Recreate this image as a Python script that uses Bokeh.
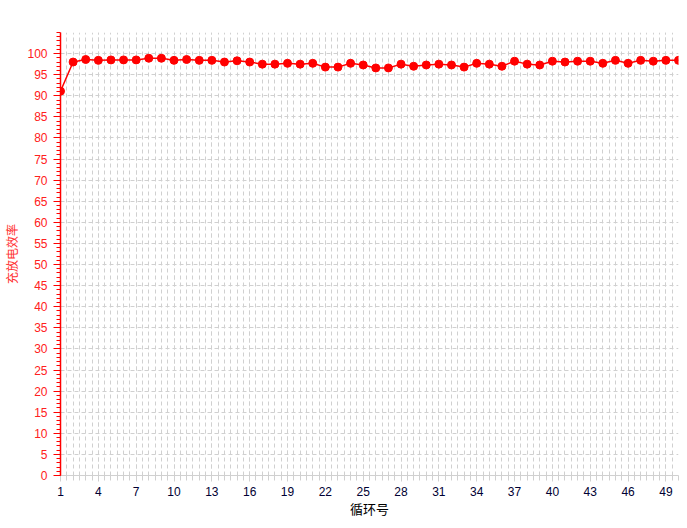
from bokeh.plotting import figure
from bokeh.models import Range1d, FixedTicker, Grid, ColumnDataSource
from bokeh.embed import file_html
from bokeh.resources import INLINE

cycles = list(range(1, 51))
efficiency = [91.1, 98.0, 98.6, 98.4, 98.5, 98.5, 98.5, 98.9, 98.9, 98.4,
              98.6, 98.4, 98.4, 98.0, 98.3, 98.0, 97.5, 97.5, 97.7, 97.5,
              97.7, 96.8, 96.8, 97.7, 97.3, 96.6, 96.6, 97.5, 97.0, 97.3,
              97.5, 97.3, 96.8, 97.7, 97.5, 97.0, 98.2, 97.5, 97.3, 98.2,
              98.0, 98.2, 98.2, 97.7, 98.4, 97.7, 98.4, 98.2, 98.4, 98.4]
x_tick_values = list(range(1, 50, 3))
y_tick_values = list(range(0, 101, 5))

src = ColumnDataSource(dict(x=cycles, y=efficiency))

p = figure(frame_width=618, frame_height=443, output_backend="svg",
           toolbar_location=None, x_range=Range1d(1, 50), y_range=Range1d(0, 105),
           min_border_left=59, min_border_right=10, min_border_top=32,
           min_border_bottom=53)
p.outline_line_color = None
p.background_fill_color = "white"
p.border_fill_color = "white"

grid_color = "#d0d0d0"
# x axis
p.xaxis.ticker = FixedTicker(ticks=x_tick_values,
                             minor_ticks=[1 + 0.5 * i for i in range(99)])
p.xaxis.axis_line_color = grid_color
p.xaxis.major_tick_line_color = grid_color
p.xaxis.minor_tick_line_color = grid_color
p.xaxis.major_tick_out = 6
p.xaxis.major_tick_in = 0
p.xaxis.minor_tick_out = 5
p.xaxis.minor_tick_in = 0
p.xaxis.major_label_text_font = "Liberation Sans"
p.xaxis.major_label_text_font_size = "12px"
p.xaxis.major_label_text_color = "#000033"
p.xaxis.major_label_standoff = 5
p.xaxis.axis_label = "循环号"
p.xaxis.axis_label_text_font = "Noto Sans CJK SC"
p.xaxis.axis_label_text_font_style = "normal"
p.xaxis.axis_label_text_font_size = "13px"
p.xaxis.axis_label_text_color = "black"
p.xaxis.axis_label_standoff = 0

# y axis
p.yaxis.ticker = FixedTicker(ticks=y_tick_values, minor_ticks=list(range(0, 106)))
p.yaxis.axis_line_color = "red"
p.yaxis.axis_line_width = 1.5
p.yaxis.major_tick_line_color = "red"
p.yaxis.minor_tick_line_color = "red"
p.yaxis.major_tick_out = 7
p.yaxis.major_tick_in = 0
p.yaxis.minor_tick_out = 4
p.yaxis.minor_tick_in = 0
p.yaxis.major_label_text_font = "Liberation Sans"
p.yaxis.major_label_text_font_size = "12px"
p.yaxis.major_label_text_color = "#ff2020"
p.yaxis.major_label_standoff = 6
p.yaxis.axis_label = "充放电效率"
p.yaxis.axis_label_text_font = "Noto Sans CJK SC"
p.yaxis.axis_label_text_font_style = "normal"
p.yaxis.axis_label_text_font_size = "12px"
p.yaxis.axis_label_text_color = "#ff3030"
p.yaxis.axis_label_standoff = 4

# grids
p.xgrid.grid_line_color = grid_color
p.xgrid.grid_line_dash = "4 3"
p.xgrid.minor_grid_line_color = grid_color
p.xgrid.minor_grid_line_dash = "4 3"
p.ygrid.grid_line_color = grid_color
p.ygrid.grid_line_dash = "4 3"
top_grid = Grid(dimension=1, ticker=FixedTicker(ticks=[105]),
                grid_line_color=grid_color, grid_line_dash="4 3")
p.add_layout(top_grid)

p.line("x", "y", source=src, line_color="red", line_width=1.5)
p.scatter("x", "y", source=src, marker="circle", size=8,
          fill_color="red", line_color="red")

open("out.html", "w").write(file_html(p, INLINE))
